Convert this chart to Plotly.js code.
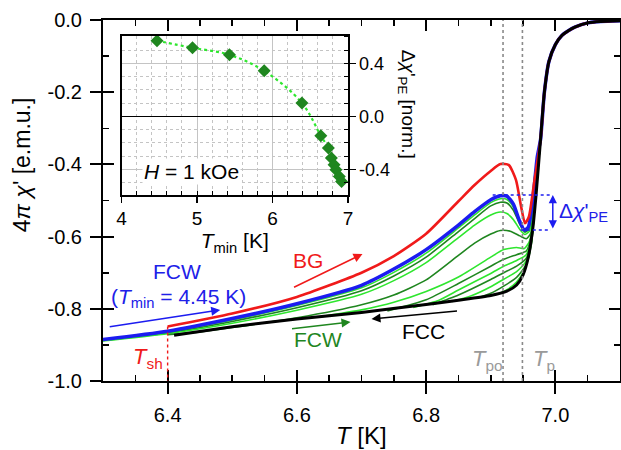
<!DOCTYPE html>
<html>
<head>
<meta charset="utf-8">
<script src="https://cdn.plot.ly/plotly-3.0.1.min.js"></script>
<style>html,body{margin:0;padding:0;background:#fff;}#chart{width:621px;height:450px;}</style>
</head>
<body>
<div id="chart"></div>
<script>
// ---------- main plot data ----------
const tailT = [6.977, 6.983, 6.99, 7.0, 7.01, 7.02, 7.03, 7.05, 7.07, 7.1];
const tailV = [-0.332, -0.20, -0.115, -0.068, -0.043, -0.03, -0.02, -0.008, -0.004, -0.002];

const blackT = [6.41, 6.5, 6.6, 6.7, 6.8, 6.85, 6.9, 6.925, 6.94, 6.95, 6.958, 6.965, 6.97];
const blackV = [-0.873, -0.850, -0.828, -0.810, -0.788, -0.776, -0.763, -0.751, -0.734, -0.706, -0.658, -0.578, -0.487];

const blueT = [6.3, 6.4, 6.5, 6.6, 6.7, 6.75, 6.8, 6.85, 6.875, 6.9, 6.915, 6.925, 6.935, 6.944, 6.952, 6.958, 6.965, 6.972];
const blueV = [-0.885, -0.862, -0.827, -0.786, -0.735, -0.690, -0.636, -0.568, -0.531, -0.498, -0.487, -0.488, -0.510, -0.554, -0.582, -0.574, -0.499, -0.379];

const redT = [6.4, 6.5, 6.6, 6.7, 6.75, 6.8, 6.85, 6.875, 6.9, 6.915, 6.928, 6.939, 6.947, 6.953, 6.959, 6.967];
const redV = [-0.849, -0.813, -0.767, -0.700, -0.654, -0.592, -0.502, -0.457, -0.418, -0.399, -0.402, -0.443, -0.517, -0.563, -0.545, -0.452];

const lowGreenT = [6.3, 6.4, 6.5, 6.6, 6.7, 6.75, 6.8, 6.85, 6.875, 6.9, 6.915, 6.925, 6.935, 6.945, 6.953, 6.96, 6.966, 6.972];
const g1V = [-0.887, -0.865, -0.831, -0.791, -0.742, -0.699, -0.646, -0.576, -0.540, -0.506, -0.495, -0.497, -0.518, -0.560, -0.585, -0.576, -0.51, -0.39];
const g2V = [-0.888, -0.867, -0.835, -0.797, -0.750, -0.709, -0.657, -0.586, -0.550, -0.515, -0.505, -0.507, -0.527, -0.566, -0.588, -0.578, -0.512, -0.39];
const g3V = [-0.889, -0.869, -0.840, -0.804, -0.760, -0.722, -0.672, -0.603, -0.568, -0.540, -0.532, -0.536, -0.553, -0.580, -0.594, -0.584, -0.515, -0.39];

const g4T = [6.4, 6.45, 6.5, 6.6, 6.7, 6.75, 6.8, 6.85, 6.875, 6.9, 6.915, 6.93, 6.945, 6.955, 6.962, 6.968];
const g4V = [-0.872, -0.864, -0.852, -0.825, -0.789, -0.762, -0.720, -0.652, -0.618, -0.593, -0.583, -0.585, -0.598, -0.606, -0.59, -0.50];
const g5T = [6.64, 6.7, 6.75, 6.8, 6.85, 6.9, 6.92, 6.94, 6.952, 6.96, 6.966, 6.972];
const g5V = [-0.821, -0.803, -0.782, -0.752, -0.712, -0.657, -0.636, -0.630, -0.633, -0.612, -0.55, -0.42];
const g6T = [6.74, 6.8, 6.85, 6.9, 6.92, 6.94, 6.955, 6.962, 6.968];
const g6V = [-0.806, -0.775, -0.730, -0.682, -0.663, -0.650, -0.640, -0.605, -0.51];
const g7T = [6.78, 6.82, 6.85, 6.9, 6.92, 6.94, 6.955, 6.962, 6.968];
const g7V = [-0.796, -0.776, -0.748, -0.702, -0.682, -0.666, -0.650, -0.61, -0.51];
const g8T = [6.81, 6.85, 6.9, 6.92, 6.94, 6.955, 6.963, 6.968];
const g8V = [-0.789, -0.762, -0.719, -0.700, -0.682, -0.660, -0.61, -0.52];
const g9T = [6.84, 6.87, 6.9, 6.92, 6.94, 6.955, 6.963, 6.968];
const g9V = [-0.780, -0.764, -0.739, -0.718, -0.697, -0.668, -0.615, -0.52];
const g10T = [6.88, 6.9, 6.92, 6.94, 6.955, 6.963, 6.968];
const g10V = [-0.770, -0.757, -0.737, -0.713, -0.677, -0.62, -0.52];
const g11T = [6.91, 6.925, 6.94, 6.952, 6.96, 6.966];
const g11V = [-0.760, -0.747, -0.726, -0.692, -0.645, -0.56];

// ---------- inset data ----------
const insetT = [4.47, 4.94, 5.43, 5.89, 6.39, 6.64, 6.74, 6.78, 6.815, 6.84, 6.885, 6.915];
const insetV = [0.570, 0.517, 0.464, 0.343, 0.100, -0.147, -0.240, -0.315, -0.366, -0.404, -0.454, -0.492];

// ---------- ticks ----------
const xTickVals = [6.4, 6.6, 6.8, 7.0];
const xTickText = ['6.4', '6.6', '6.8', '7.0'];
const yTickVals = [0, -0.2, -0.4, -0.6, -0.8, -1.0];
const yTickText = ['0.0', '-0.2', '-0.4', '-0.6', '-0.8', '-1.0'];
const insetXTickVals = [4, 5, 6, 7];
const insetXTickText = ['4', '5', '6', '7'];
const insetYTickVals = [-0.4, 0, 0.4];
const insetYTickText = ['-0.4', '0.0', '0.4'];

const FONT = 'Liberation Sans, Arial, sans-serif';
const BRIGHT = '#2ee62e', DARK = '#1f861f', BLUE = '#1c1cf0', RED = '#f01a1a';
const TXTBLUE = '#2020e8', GRAY = '#9a9a9a';

function curve(T, V, color, width) {
  return {x: T.concat(tailT), y: V.concat(tailV), type: 'scatter', mode: 'lines',
          line: {color: color, width: width, shape: 'spline', smoothing: 0.6}, hoverinfo: 'skip'};
}

const traces = [
  curve(lowGreenT, g1V, BRIGHT, 1.6),
  curve(lowGreenT, g2V, DARK, 1.6),
  curve(lowGreenT, g3V, BRIGHT, 1.6),
  curve(g4T, g4V, DARK, 1.6),
  curve(g5T, g5V, BRIGHT, 1.6),
  curve(g6T, g6V, DARK, 1.6),
  curve(g7T, g7V, BRIGHT, 1.6),
  curve(g8T, g8V, DARK, 1.6),
  curve(g9T, g9V, BRIGHT, 1.6),
  curve(g10T, g10V, DARK, 1.6),
  curve(g11T, g11V, BRIGHT, 1.6),
  curve(blueT, blueV, BLUE, 3.5),
  curve(redT, redV, RED, 2.6),
  curve(blackT, blackV, 'black', 3),
  {x: insetT, y: insetV, xaxis: 'x2', yaxis: 'y2', type: 'scatter', mode: 'lines',
   line: {color: BRIGHT, width: 2.2, dash: 'dot', shape: 'spline'}, hoverinfo: 'skip'},
  {x: insetT, y: insetV, xaxis: 'x2', yaxis: 'y2', type: 'scatter', mode: 'markers',
   marker: {symbol: 'diamond', size: 10, color: DARK}, hoverinfo: 'skip'},
  {x: [], y: [], xaxis: 'x3', yaxis: 'y3', type: 'scatter', mode: 'lines', hoverinfo: 'skip'}
];

const axLine = {showline: true, linewidth: 2, linecolor: 'black', showgrid: false, zeroline: false, tickcolor: 'black'};

function txt(x, y, text, size, color, extra) {
  return Object.assign({xref: 'x', yref: 'y', x: x, y: y, text: text, showarrow: false,
    xanchor: 'center', yanchor: 'middle', font: {size: size, color: color}}, extra || {});
}
function arrow(x, y, ax, ay, color, extra) {
  return Object.assign({xref: 'x', yref: 'y', x: x, y: y, ax: ax, ay: ay, text: '', showarrow: true,
    arrowhead: 2, arrowsize: 1.2, arrowwidth: 1.5, arrowcolor: color, standoff: 0}, extra || {});
}

const layout = {
  width: 621, height: 450,
  margin: {l: 103, r: 1, t: 20, b: 69},
  paper_bgcolor: 'white', plot_bgcolor: 'white', showlegend: false,
  font: {family: FONT, size: 20, color: 'black'},
  xaxis: Object.assign({}, axLine, {
    range: [6.3, 7.1], tickmode: 'array', tickvals: xTickVals, ticktext: xTickText,
    ticks: 'outside', ticklen: 11, tickwidth: 2, tickfont: {size: 20}, ticklabelstandoff: 4
  }),
  yaxis: Object.assign({}, axLine, {
    range: [-1, 0], tickmode: 'array', tickvals: yTickVals, ticktext: yTickText,
    ticks: 'outside', ticklen: 11, tickwidth: 2, tickfont: {size: 20}, ticklabelstandoff: 4
  }),
  xaxis3: Object.assign({}, axLine, {
    overlaying: 'x', anchor: 'y3', range: [6.3, 7.1], tickmode: 'linear', tick0: 6.4, dtick: 0.2,
    ticks: 'inside', ticklen: 11, tickwidth: 2, showticklabels: false, mirror: 'allticks',
    minor: {tickmode: 'linear', tick0: 6.3, dtick: 0.05, ticks: 'inside', ticklen: 6, tickwidth: 1.6, tickcolor: 'black'}
  }),
  yaxis3: Object.assign({}, axLine, {
    overlaying: 'y', anchor: 'x3', range: [-1, 0], tickmode: 'linear', tick0: 0, dtick: 0.2,
    ticks: 'inside', ticklen: 11, tickwidth: 2, showticklabels: false, mirror: 'allticks',
    minor: {tickmode: 'linear', tick0: 0, dtick: 0.1, ticks: 'inside', ticklen: 6, tickwidth: 1.6, tickcolor: 'black'}
  }),
  xaxis2: {
    domain: [0.0358, 0.4739], anchor: 'y2', range: [4, 7],
    tickmode: 'array', tickvals: insetXTickVals, ticktext: insetXTickText,
    ticks: 'outside', ticklen: 6, tickwidth: 1.5, tickcolor: 'black', tickfont: {size: 19},
    showline: true, linewidth: 1.5, linecolor: 'black', mirror: true, zeroline: false,
    showgrid: true, gridcolor: '#c4c4c4', gridwidth: 1,
    minor: {tickmode: 'linear', tick0: 4, dtick: 0.2, showgrid: true, gridcolor: '#c4c4c4', griddash: 'dot', gridwidth: 1,
            ticks: 'inside', ticklen: 4, tickwidth: 1, tickcolor: 'black'},
    title: {text: '<i>T</i><sub>min</sub> [K]', font: {size: 21}, standoff: 0}
  },
  yaxis2: {
    domain: [0.5152, 0.9557], anchor: 'x2', side: 'right', range: [-0.594, 0.606],
    tickmode: 'array', tickvals: insetYTickVals, ticktext: insetYTickText,
    ticks: 'outside', ticklen: 6, tickwidth: 1.5, tickcolor: 'black', tickfont: {size: 18},
    showline: true, linewidth: 1.5, linecolor: 'black', mirror: true,
    showgrid: true, gridcolor: '#c4c4c4', gridwidth: 1,
    zeroline: true, zerolinecolor: 'black', zerolinewidth: 1.6,
    minor: {tickmode: 'linear', tick0: 0, dtick: 0.1, showgrid: true, gridcolor: '#c4c4c4', griddash: 'dot', gridwidth: 1,
            ticks: 'inside', ticklen: 4, tickwidth: 1, tickcolor: 'black'}
  },
  shapes: [
    {type: 'line', xref: 'x', yref: 'paper', x0: 6.919, x1: 6.919, y0: 0, y1: 1, line: {color: '#8a8a8a', width: 1.6, dash: 'dot'}},
    {type: 'line', xref: 'x', yref: 'paper', x0: 6.949, x1: 6.949, y0: 0, y1: 1, line: {color: '#8a8a8a', width: 1.6, dash: 'dot'}},
    {type: 'line', xref: 'x', yref: 'y', x0: 6.4, x1: 6.4, y0: -0.849, y1: -1.0, line: {color: RED, width: 1.4, dash: 'dot'}},
    {type: 'line', xref: 'x', yref: 'y', x0: 6.903, x1: 6.993, y0: -0.485, y1: -0.485, line: {color: BLUE, width: 1.5, dash: 'dot'}},
    {type: 'line', xref: 'x', yref: 'y', x0: 6.9465, x1: 6.993, y0: -0.582, y1: -0.582, line: {color: BLUE, width: 1.5, dash: 'dot'}}
  ],
  annotations: [
    // axis titles
    {xref: 'paper', yref: 'paper', x: 0.5, y: -0.152, text: '<i>T</i> [K]', showarrow: false,
     xanchor: 'center', yanchor: 'middle', font: {size: 24, color: 'black'}},
    {xref: 'paper', yref: 'paper', x: -0.155, y: 0.6, text: "4<i>π</i> <i>χ</i>' [e.m.u.]", textangle: -90, showarrow: false,
     xanchor: 'center', yanchor: 'middle', font: {size: 23, color: 'black'}},
    // text labels
    txt(6.4147, -0.698, 'FCW', 21, TXTBLUE),
    txt(6.4163, -0.770, '(<i>T</i><sub>min</sub> = 4.45 K)', 21, TXTBLUE),
    txt(6.6178, -0.665, 'BG', 21, RED),
    txt(6.6333, -0.886, 'FCW', 21, DARK),
    txt(6.7961, -0.864, 'FCC', 21, 'black'),
    txt(6.3698, -0.936, '<i>T</i><sub>sh</sub>', 22, RED),
    txt(6.8953, -0.942, '<i>T</i><sub>po</sub>', 22, GRAY),
    txt(6.9822, -0.942, '<i>T</i><sub>p</sub>', 22, GRAY),
    txt(7.0442, -0.532, "Δ<i>χ</i>'<sub>PE</sub>", 21, TXTBLUE),
    // arrows
    arrow(6.7016, -0.648, -70, 34, RED),
    arrow(6.4814, -0.803, -112, 17, BLUE),
    arrow(6.683, -0.8366, -60, 7, DARK),
    arrow(6.7155, -0.828, 87, -8, 'black'),
    arrow(6.996, -0.485, 0, 35, BLUE, {startarrowhead: 2, arrowside: 'end+start', arrowsize: 1.1, startstandoff: 0}),
    // inset labels
    {xref: 'paper', yref: 'paper', x: 0.172, y: 0.579, text: '<i>H</i> = 1 kOe', showarrow: false, bgcolor: 'white',
     xanchor: 'center', yanchor: 'middle', font: {size: 21, color: 'black'}},
    {xref: 'paper', yref: 'paper', x: 0.588, y: 0.765, text: "Δ<i>χ</i>'<sub>PE</sub> [norm.]", textangle: 90, showarrow: false,
     xanchor: 'center', yanchor: 'middle', font: {size: 19, color: 'black'}}
  ]
};

Plotly.newPlot('chart', traces, layout, {displayModeBar: false, staticPlot: true});
</script>
</body>
</html>
